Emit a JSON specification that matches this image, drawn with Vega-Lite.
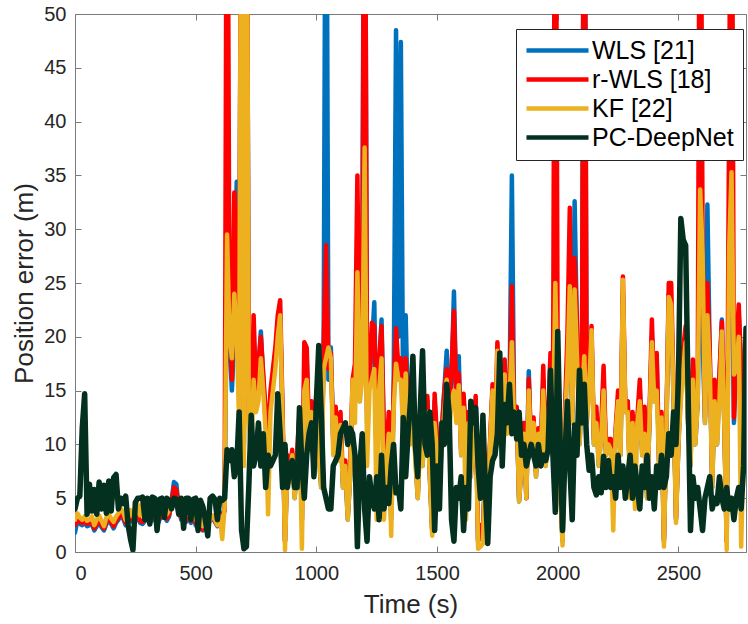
{
  "$schema": "https://vega.github.io/schema/vega-lite/v6.json",
  "width": 671,
  "height": 538,
  "autosize": {"type": "none"},
  "padding": {"left": 75, "top": 14, "right": 2, "bottom": 72},
  "background": "white",
  "config": {"view": {"stroke": null}, "font": "Liberation Sans"},
  "data": {"values": [
{"t":0,"w":1.8,"r":2.5,"k":3.0,"p":4.0},
{"t":10,"w":3.0,"r":3.2,"k":3.6,"p":5.0},
{"t":20,"w":2.6,"r":2.8,"k":3.2,"p":5.2},
{"t":30,"w":2.5,"r":2.7,"k":3.0,"p":11.5},
{"t":40,"w":2.7,"r":2.9,"k":3.3,"p":14.7},
{"t":50,"w":2.4,"r":2.6,"k":2.9,"p":3.5},
{"t":60,"w":2.5,"r":2.7,"k":3.0,"p":6.3},
{"t":70,"w":2.6,"r":2.8,"k":3.3,"p":3.8},
{"t":80,"w":2.0,"r":2.2,"k":2.5,"p":5.8},
{"t":90,"w":2.4,"r":2.6,"k":3.0,"p":3.5},
{"t":100,"w":2.8,"r":3.0,"k":3.4,"p":6.5},
{"t":110,"w":2.3,"r":2.5,"k":2.9,"p":4.0},
{"t":120,"w":2.0,"r":2.2,"k":2.4,"p":6.2},
{"t":130,"w":2.6,"r":2.8,"k":3.2,"p":3.6},
{"t":140,"w":2.9,"r":3.1,"k":3.5,"p":6.6},
{"t":150,"w":2.6,"r":2.8,"k":3.1,"p":3.8},
{"t":160,"w":2.2,"r":2.4,"k":2.8,"p":6.9},
{"t":170,"w":2.7,"r":2.9,"k":3.3,"p":7.2},
{"t":180,"w":3.0,"r":3.2,"k":3.6,"p":4.0},
{"t":190,"w":3.4,"r":3.6,"k":4.0,"p":5.0},
{"t":200,"w":3.1,"r":3.3,"k":3.7,"p":4.5},
{"t":210,"w":2.5,"r":2.7,"k":3.0,"p":5.2},
{"t":220,"w":2.6,"r":2.8,"k":3.2,"p":2.5},
{"t":230,"w":3.3,"r":3.5,"k":3.9,"p":1.2},
{"t":240,"w":2.8,"r":3.0,"k":3.3,"p":0.2},
{"t":250,"w":2.9,"r":3.1,"k":3.5,"p":4.6},
{"t":260,"w":3.2,"r":3.4,"k":4.4,"p":5.0},
{"t":270,"w":2.7,"r":2.9,"k":3.4,"p":5.0},
{"t":280,"w":2.6,"r":2.8,"k":4.5,"p":5.1},
{"t":290,"w":2.9,"r":3.1,"k":3.6,"p":3.0},
{"t":300,"w":3.3,"r":3.5,"k":3.9,"p":5.0},
{"t":310,"w":2.8,"r":3.0,"k":3.5,"p":2.6},
{"t":320,"w":3.0,"r":3.2,"k":4.6,"p":5.1},
{"t":330,"w":3.2,"r":3.4,"k":3.8,"p":5.0},
{"t":340,"w":2.4,"r":2.6,"k":3.0,"p":2.0},
{"t":350,"w":3.0,"r":3.2,"k":3.6,"p":4.9},
{"t":360,"w":3.4,"r":3.6,"k":4.0,"p":5.0},
{"t":370,"w":3.9,"r":4.1,"k":4.6,"p":3.2},
{"t":380,"w":2.9,"r":3.1,"k":3.5,"p":5.0},
{"t":390,"w":3.3,"r":3.5,"k":3.9,"p":4.8},
{"t":400,"w":4.8,"r":4.6,"k":4.3,"p":4.0},
{"t":410,"w":6.5,"r":6.0,"k":5.0,"p":5.0},
{"t":420,"w":6.3,"r":5.8,"k":4.8,"p":4.9},
{"t":430,"w":4.0,"r":3.8,"k":3.5,"p":3.5},
{"t":440,"w":3.0,"r":3.2,"k":3.7,"p":5.0},
{"t":450,"w":3.5,"r":3.7,"k":4.1,"p":2.2},
{"t":460,"w":2.8,"r":3.0,"k":3.4,"p":5.0},
{"t":470,"w":3.2,"r":3.4,"k":3.8,"p":5.0},
{"t":480,"w":2.7,"r":2.9,"k":3.3,"p":3.0},
{"t":490,"w":3.3,"r":3.5,"k":3.9,"p":4.9},
{"t":500,"w":2.5,"r":2.7,"k":3.0,"p":5.0},
{"t":510,"w":2.2,"r":2.4,"k":2.8,"p":2.0},
{"t":520,"w":2.6,"r":2.8,"k":3.2,"p":4.8},
{"t":530,"w":2.0,"r":2.1,"k":2.4,"p":4.2},
{"t":540,"w":2.6,"r":2.8,"k":3.2,"p":3.0},
{"t":550,"w":2.0,"r":2.2,"k":2.5,"p":1.5},
{"t":560,"w":3.5,"r":3.2,"k":3.0,"p":5.0},
{"t":570,"w":3.2,"r":3.3,"k":3.4,"p":5.2},
{"t":580,"w":2.8,"r":2.9,"k":3.0,"p":4.9},
{"t":590,"w":2.4,"r":2.5,"k":2.5,"p":3.0},
{"t":600,"w":3.2,"r":3.3,"k":3.4,"p":5.0},
{"t":610,"w":3.5,"r":3.4,"k":1.2,"p":4.8},
{"t":620,"w":4.0,"r":3.8,"k":4.2,"p":5.0},
{"t":630,"w":26.5,"r":80,"k":29.5,"p":9.5},
{"t":640,"w":20,"r":22,"k":20,"p":8.5},
{"t":650,"w":15,"r":16,"k":18,"p":9.5},
{"t":660,"w":20,"r":33.4,"k":24,"p":7},
{"t":670,"w":34.4,"r":28,"k":20,"p":8},
{"t":680,"w":14,"r":15,"k":12,"p":13},
{"t":690,"w":80,"r":80,"k":80,"p":2},
{"t":700,"w":10,"r":12,"k":8,"p":0.3},
{"t":710,"w":80,"r":80,"k":80,"p":0.5},
{"t":720,"w":14,"r":13,"k":12,"p":6},
{"t":730,"w":10,"r":10.5,"k":9,"p":12.7},
{"t":740,"w":20,"r":22,"k":16,"p":8},
{"t":750,"w":14,"r":15,"k":13,"p":9},
{"t":760,"w":17,"r":17.5,"k":14,"p":12},
{"t":770,"w":20.5,"r":20,"k":18,"p":8},
{"t":780,"w":16,"r":16.5,"k":15,"p":11},
{"t":790,"w":12,"r":13,"k":11,"p":6},
{"t":800,"w":10,"r":11,"k":3.5,"p":9},
{"t":810,"w":14,"r":15,"k":13,"p":8},
{"t":820,"w":16,"r":17,"k":15,"p":8.5},
{"t":830,"w":18,"r":19,"k":17,"p":9},
{"t":840,"w":21,"r":22,"k":20,"p":14.7},
{"t":850,"w":22,"r":23.4,"k":22,"p":11},
{"t":860,"w":12,"r":13,"k":12,"p":6},
{"t":870,"w":1,"r":1,"k":0.2,"p":10},
{"t":880,"w":8,"r":9,"k":8,"p":6},
{"t":890,"w":7,"r":7.5,"k":6.5,"p":8},
{"t":900,"w":9,"r":9.5,"k":9,"p":8.5},
{"t":910,"w":5,"r":5.5,"k":5,"p":6},
{"t":920,"w":8,"r":9,"k":8,"p":6},
{"t":930,"w":12,"r":13,"k":12,"p":13.4},
{"t":940,"w":3,"r":3,"k":0.3,"p":8},
{"t":950,"w":16,"r":19.5,"k":15,"p":5},
{"t":960,"w":18,"r":19,"k":16,"p":9},
{"t":970,"w":10,"r":11,"k":10,"p":11},
{"t":980,"w":13,"r":14,"k":13,"p":12},
{"t":990,"w":8,"r":8,"k":7,"p":7},
{"t":1000,"w":14,"r":15,"k":13,"p":14},
{"t":1010,"w":9,"r":10,"k":9,"p":19.2},
{"t":1020,"w":6,"r":6.5,"k":6,"p":13},
{"t":1030,"w":18,"r":19,"k":17,"p":6},
{"t":1040,"w":80,"r":28.5,"k":18,"p":5},
{"t":1050,"w":16,"r":17,"k":19,"p":4},
{"t":1060,"w":19,"r":18.5,"k":18,"p":4},
{"t":1070,"w":10,"r":10.5,"k":9,"p":8},
{"t":1080,"w":13,"r":13.5,"k":12.5,"p":8.5},
{"t":1090,"w":9,"r":9,"k":8.5,"p":9},
{"t":1100,"w":12,"r":13,"k":11.8,"p":11},
{"t":1110,"w":6,"r":6.5,"k":6,"p":11.5},
{"t":1120,"w":8,"r":8.5,"k":8,"p":12},
{"t":1130,"w":3,"r":3.5,"k":3,"p":10},
{"t":1140,"w":7,"r":7.5,"k":7,"p":11.5},
{"t":1150,"w":15,"r":16,"k":16,"p":11},
{"t":1160,"w":17,"r":17.5,"k":12,"p":9},
{"t":1170,"w":20,"r":35,"k":26,"p":0.5},
{"t":1180,"w":14,"r":15,"k":14,"p":8},
{"t":1190,"w":25.6,"r":20,"k":16,"p":11},
{"t":1200,"w":80,"r":80,"k":37.6,"p":4},
{"t":1210,"w":12,"r":13,"k":8,"p":1},
{"t":1220,"w":16,"r":17,"k":15,"p":7},
{"t":1230,"w":19,"r":21.3,"k":16,"p":5},
{"t":1240,"w":23.2,"r":21,"k":17,"p":4},
{"t":1250,"w":9,"r":9.5,"k":3,"p":7},
{"t":1260,"w":17,"r":18,"k":15,"p":3},
{"t":1270,"w":21.6,"r":21,"k":18,"p":9},
{"t":1280,"w":10,"r":10.5,"k":3,"p":4},
{"t":1290,"w":8,"r":9,"k":8,"p":6},
{"t":1300,"w":12,"r":13,"k":11,"p":4.5},
{"t":1310,"w":3,"r":3.5,"k":1.5,"p":8},
{"t":1320,"w":14,"r":15,"k":13,"p":10},
{"t":1330,"w":48.5,"r":20.8,"k":17.5,"p":5.5},
{"t":1340,"w":20,"r":17,"k":16,"p":6},
{"t":1350,"w":47.4,"r":18,"k":16,"p":4},
{"t":1360,"w":12,"r":12.5,"k":11,"p":12.5},
{"t":1370,"w":22,"r":18,"k":16.6,"p":7},
{"t":1380,"w":12,"r":12.5,"k":10,"p":11},
{"t":1390,"w":11,"r":11.5,"k":10,"p":14},
{"t":1400,"w":14,"r":15,"k":13,"p":18.2},
{"t":1410,"w":9,"r":9.5,"k":8.5,"p":10},
{"t":1420,"w":5,"r":5.5,"k":5,"p":7},
{"t":1430,"w":11,"r":11,"k":10,"p":13},
{"t":1440,"w":8,"r":8.5,"k":8,"p":18.7},
{"t":1450,"w":12,"r":13,"k":12,"p":10},
{"t":1460,"w":14,"r":14.5,"k":13,"p":9},
{"t":1470,"w":7,"r":7.5,"k":7,"p":13},
{"t":1480,"w":2,"r":2,"k":1.5,"p":10},
{"t":1490,"w":14,"r":14.7,"k":12,"p":2},
{"t":1500,"w":10,"r":10.5,"k":9,"p":8},
{"t":1510,"w":6,"r":6.5,"k":6,"p":4},
{"t":1520,"w":11,"r":11.5,"k":10,"p":12},
{"t":1530,"w":15,"r":15,"k":13,"p":10},
{"t":1540,"w":18.7,"r":17,"k":16,"p":15.6},
{"t":1550,"w":12,"r":12.5,"k":11,"p":13},
{"t":1560,"w":16,"r":17,"k":14,"p":3},
{"t":1570,"w":24.2,"r":22.4,"k":15,"p":1},
{"t":1580,"w":14,"r":14.5,"k":12,"p":6},
{"t":1590,"w":18.2,"r":16.6,"k":15.5,"p":5},
{"t":1600,"w":9,"r":9.5,"k":9,"p":7},
{"t":1610,"w":14,"r":14.7,"k":13.4,"p":2},
{"t":1620,"w":10,"r":10.5,"k":3,"p":6},
{"t":1630,"w":12,"r":13,"k":12,"p":4},
{"t":1640,"w":7,"r":7.5,"k":7,"p":14},
{"t":1650,"w":10,"r":10.5,"k":10,"p":12},
{"t":1660,"w":14,"r":14.5,"k":13,"p":13.4},
{"t":1670,"w":1,"r":1,"k":0.3,"p":8},
{"t":1680,"w":2,"r":2.5,"k":0.5,"p":5},
{"t":1690,"w":1.5,"r":1.5,"k":0.8,"p":12.7},
{"t":1700,"w":8,"r":8.5,"k":8,"p":6},
{"t":1710,"w":5,"r":5.5,"k":5,"p":0.8},
{"t":1720,"w":10,"r":10.5,"k":10,"p":7},
{"t":1730,"w":15,"r":15.6,"k":15,"p":8.5},
{"t":1740,"w":9,"r":9.5,"k":9,"p":9},
{"t":1750,"w":18,"r":19.5,"k":18.7,"p":11},
{"t":1760,"w":14,"r":14.5,"k":13,"p":18.5},
{"t":1770,"w":10,"r":10.5,"k":10,"p":8},
{"t":1780,"w":17,"r":17.9,"k":16.5,"p":13.7},
{"t":1790,"w":12,"r":12.5,"k":11,"p":12},
{"t":1800,"w":14,"r":14.5,"k":14,"p":15.6},
{"t":1810,"w":35,"r":24.7,"k":19.5,"p":11},
{"t":1820,"w":11,"r":11.5,"k":11,"p":13},
{"t":1830,"w":13,"r":13.5,"k":13,"p":10.5},
{"t":1840,"w":4.7,"r":5,"k":4.7,"p":13},
{"t":1850,"w":8,"r":8.5,"k":8,"p":9},
{"t":1860,"w":12,"r":12,"k":11,"p":10},
{"t":1870,"w":5,"r":5,"k":5,"p":8},
{"t":1880,"w":16.8,"r":16.1,"k":15,"p":9},
{"t":1890,"w":9,"r":9.5,"k":9,"p":10},
{"t":1900,"w":12,"r":12.5,"k":12,"p":9},
{"t":1910,"w":7,"r":7.5,"k":7,"p":8},
{"t":1920,"w":11,"r":11.5,"k":11,"p":10},
{"t":1930,"w":9,"r":9.5,"k":9,"p":8},
{"t":1940,"w":16,"r":17.3,"k":15,"p":9},
{"t":1950,"w":8,"r":8.5,"k":8,"p":8.5},
{"t":1960,"w":11,"r":12,"k":11,"p":9.5},
{"t":1970,"w":16,"r":18.5,"k":16.6,"p":16.9},
{"t":1980,"w":10,"r":11,"k":10,"p":9},
{"t":1990,"w":25,"r":80,"k":25,"p":3.7},
{"t":2000,"w":15,"r":16,"k":14,"p":20.5},
{"t":2010,"w":6,"r":6.5,"k":6,"p":10},
{"t":2020,"w":1,"r":1.2,"k":0.6,"p":2},
{"t":2030,"w":12,"r":13,"k":12,"p":9},
{"t":2040,"w":18,"r":20,"k":17,"p":14},
{"t":2050,"w":24,"r":32,"k":24.7,"p":8},
{"t":2060,"w":12,"r":13,"k":12,"p":3},
{"t":2070,"w":32.6,"r":27.3,"k":24.4,"p":11.8},
{"t":2080,"w":20,"r":21,"k":18,"p":9},
{"t":2090,"w":10,"r":11,"k":10,"p":16.9},
{"t":2100,"w":14,"r":15,"k":14,"p":12},
{"t":2110,"w":80,"r":80,"k":18.2,"p":15.6},
{"t":2120,"w":12,"r":13,"k":12,"p":10},
{"t":2130,"w":16,"r":16.5,"k":15,"p":7.6},
{"t":2140,"w":20,"r":21,"k":20.6,"p":9},
{"t":2150,"w":10,"r":10.5,"k":10,"p":6},
{"t":2160,"w":13,"r":13.5,"k":12,"p":5.3},
{"t":2170,"w":8,"r":8.5,"k":8,"p":7},
{"t":2180,"w":11,"r":11.5,"k":10.5,"p":5.5},
{"t":2190,"w":16,"r":17.3,"k":15,"p":8.9},
{"t":2200,"w":9,"r":9.5,"k":9,"p":6},
{"t":2210,"w":10,"r":10.5,"k":10,"p":8.5},
{"t":2220,"w":10,"r":10.5,"k":9.5,"p":6},
{"t":2230,"w":6,"r":6.5,"k":2,"p":7},
{"t":2240,"w":11,"r":11.5,"k":11,"p":5},
{"t":2250,"w":14,"r":15,"k":14,"p":9},
{"t":2260,"w":9,"r":9.5,"k":9,"p":6},
{"t":2270,"w":24,"r":25.6,"k":25.3,"p":8},
{"t":2280,"w":13,"r":13.5,"k":13,"p":5},
{"t":2290,"w":14,"r":14,"k":13,"p":7},
{"t":2300,"w":6,"r":6.5,"k":5,"p":9},
{"t":2310,"w":12,"r":13,"k":12,"p":5},
{"t":2320,"w":8,"r":8.5,"k":4,"p":8},
{"t":2330,"w":12,"r":12.5,"k":12,"p":6},
{"t":2340,"w":15,"r":16,"k":14,"p":4},
{"t":2350,"w":9,"r":9.5,"k":9,"p":8},
{"t":2360,"w":13,"r":13.5,"k":11,"p":6},
{"t":2370,"w":5,"r":5.5,"k":5,"p":9},
{"t":2380,"w":12,"r":12.5,"k":12,"p":5},
{"t":2390,"w":20,"r":21.6,"k":19.5,"p":7},
{"t":2400,"w":14,"r":14.5,"k":14,"p":4},
{"t":2410,"w":18,"r":18.5,"k":15,"p":8},
{"t":2420,"w":8,"r":8.5,"k":8,"p":6},
{"t":2430,"w":12,"r":13,"k":12.5,"p":9},
{"t":2440,"w":1,"r":1.2,"k":0.5,"p":6},
{"t":2450,"w":11,"r":11.5,"k":11,"p":7},
{"t":2460,"w":24,"r":25,"k":23.7,"p":11},
{"t":2470,"w":23,"r":25,"k":23,"p":9},
{"t":2480,"w":14,"r":15,"k":14,"p":13},
{"t":2490,"w":3,"r":3.2,"k":2.7,"p":10},
{"t":2500,"w":10,"r":10.5,"k":10,"p":16},
{"t":2510,"w":15,"r":15.5,"k":14,"p":31},
{"t":2520,"w":18,"r":19,"k":17,"p":29},
{"t":2530,"w":20,"r":21,"k":19.5,"p":28.5},
{"t":2540,"w":12,"r":12.5,"k":12,"p":15},
{"t":2550,"w":8,"r":8.5,"k":8,"p":2},
{"t":2560,"w":17,"r":17.9,"k":16,"p":7},
{"t":2570,"w":10,"r":10.5,"k":10,"p":5},
{"t":2580,"w":14,"r":14.5,"k":14,"p":6},
{"t":2590,"w":30,"r":80,"k":33.7,"p":4},
{"t":2600,"w":20,"r":29.5,"k":27.9,"p":2},
{"t":2610,"w":12,"r":12.5,"k":12,"p":5},
{"t":2620,"w":32.3,"r":25,"k":22,"p":6},
{"t":2630,"w":18,"r":18.5,"k":16.9,"p":7},
{"t":2640,"w":6,"r":6.5,"k":6,"p":4},
{"t":2650,"w":15,"r":16,"k":14,"p":5},
{"t":2660,"w":10,"r":11,"k":10,"p":4.5},
{"t":2670,"w":16,"r":16.5,"k":14,"p":7},
{"t":2680,"w":21.6,"r":21.4,"k":20.5,"p":5},
{"t":2690,"w":12,"r":12.5,"k":12,"p":4},
{"t":2700,"w":1,"r":1,"k":0.2,"p":6},
{"t":2710,"w":30,"r":40,"k":28,"p":4},
{"t":2720,"w":33,"r":80,"k":35.3,"p":5},
{"t":2730,"w":12,"r":12.5,"k":16.5,"p":3},
{"t":2740,"w":18,"r":19,"k":17,"p":5},
{"t":2750,"w":22,"r":23,"k":20,"p":6},
{"t":2760,"w":17,"r":17,"k":0.5,"p":4},
{"t":2770,"w":10,"r":10.5,"k":10,"p":8},
{"t":2780,"w":14,"r":15,"k":13.5,"p":20.8}
  ]},
  "resolve": {"axis": {"x": "independent", "y": "independent"}},
  "layer": [
    {
      "mark": {"type": "line", "clip": true, "strokeWidth": 4.5, "strokeJoin": "round", "strokeCap": "round"},
      "encoding": {
        "x": {"field": "t", "type": "quantitative", "scale": {"domain": [0, 2780], "nice": false, "zero": false},
              "axis": {"title": "Time (s)", "values": [0, 500, 1000, 1500, 2000, 2500], "format": "d", "grid": false,
                       "domainColor": "#7a7a7a", "tickColor": "#7a7a7a", "tickSize": -6, "labelPadding": 17,
                       "labelFontSize": 20, "labelColor": "#262626", "labelFont": "Liberation Sans",
                       "titleFontSize": 26, "titleFontWeight": "normal", "titleColor": "#262626", "titleFont": "Liberation Sans", "titlePadding": 8}},
        "y": {"field": "w", "type": "quantitative", "scale": {"domain": [0, 50], "nice": false},
              "axis": {"title": "Position error (m)", "values": [0,5,10,15,20,25,30,35,40,45,50], "format": "d", "grid": false,
                       "domainColor": "#7a7a7a", "tickColor": "#7a7a7a", "tickSize": -6, "labelPadding": 15,
                       "labelFontSize": 20, "labelColor": "#262626", "labelFont": "Liberation Sans",
                       "titleFontSize": 26, "titleFontWeight": "normal", "titleColor": "#262626", "titleFont": "Liberation Sans", "titlePadding": 6}},
        "color": {"datum": "WLS [21]", "type": "nominal",
                  "scale": {"domain": ["WLS [21]", "r-WLS [18]", "KF [22]", "PC-DeepNet"], "range": ["#0072BD", "#FF0000", "#EDB120", "#03301F"]},
                  "legend": {"orient": "none", "legendX": 441, "legendY": 15, "title": null,
                             "symbolType": "M-3.5,0H3.5", "symbolSize": 314, "symbolStrokeWidth": 4.5, "symbolOffset": 20,
                             "labelFontSize": 25, "labelFont": "Liberation Sans",
                             "labelColor": "#000000", "strokeColor": "#262626", "fillColor": "white", "padding": 9,
                             "rowPadding": 3, "labelOffset": 22}}
      }
    },
    {
      "mark": {"type": "line", "clip": true, "strokeWidth": 4.5, "strokeJoin": "round", "strokeCap": "round"},
      "encoding": {
        "x": {"field": "t", "type": "quantitative", "axis": null},
        "y": {"field": "r", "type": "quantitative", "axis": null},
        "color": {"datum": "r-WLS [18]", "type": "nominal"}
      }
    },
    {
      "mark": {"type": "line", "clip": true, "strokeWidth": 4.5, "strokeJoin": "round", "strokeCap": "round"},
      "encoding": {
        "x": {"field": "t", "type": "quantitative", "axis": null},
        "y": {"field": "k", "type": "quantitative", "axis": null},
        "color": {"datum": "KF [22]", "type": "nominal"}
      }
    },
    {
      "mark": {"type": "line", "clip": true, "strokeWidth": 5.5, "strokeJoin": "round", "strokeCap": "round"},
      "encoding": {
        "x": {"field": "t", "type": "quantitative", "axis": null},
        "y": {"field": "p", "type": "quantitative", "axis": null},
        "color": {"datum": "PC-DeepNet", "type": "nominal"}
      }
    },
    {
      "mark": {"type": "line", "opacity": 0, "clip": true},
      "encoding": {
        "x": {"field": "t", "type": "quantitative",
              "axis": {"orient": "top", "title": null, "labels": false, "values": [0, 500, 1000, 1500, 2000, 2500], "grid": false,
                       "domainColor": "#7a7a7a", "tickColor": "#7a7a7a", "tickSize": -6}},
        "y": {"field": "p", "type": "quantitative",
              "axis": {"orient": "right", "title": null, "labels": false, "values": [0,5,10,15,20,25,30,35,40,45,50], "grid": false,
                       "domainColor": "#7a7a7a", "tickColor": "#7a7a7a", "tickSize": -6}}
      }
    }
  ]
}
